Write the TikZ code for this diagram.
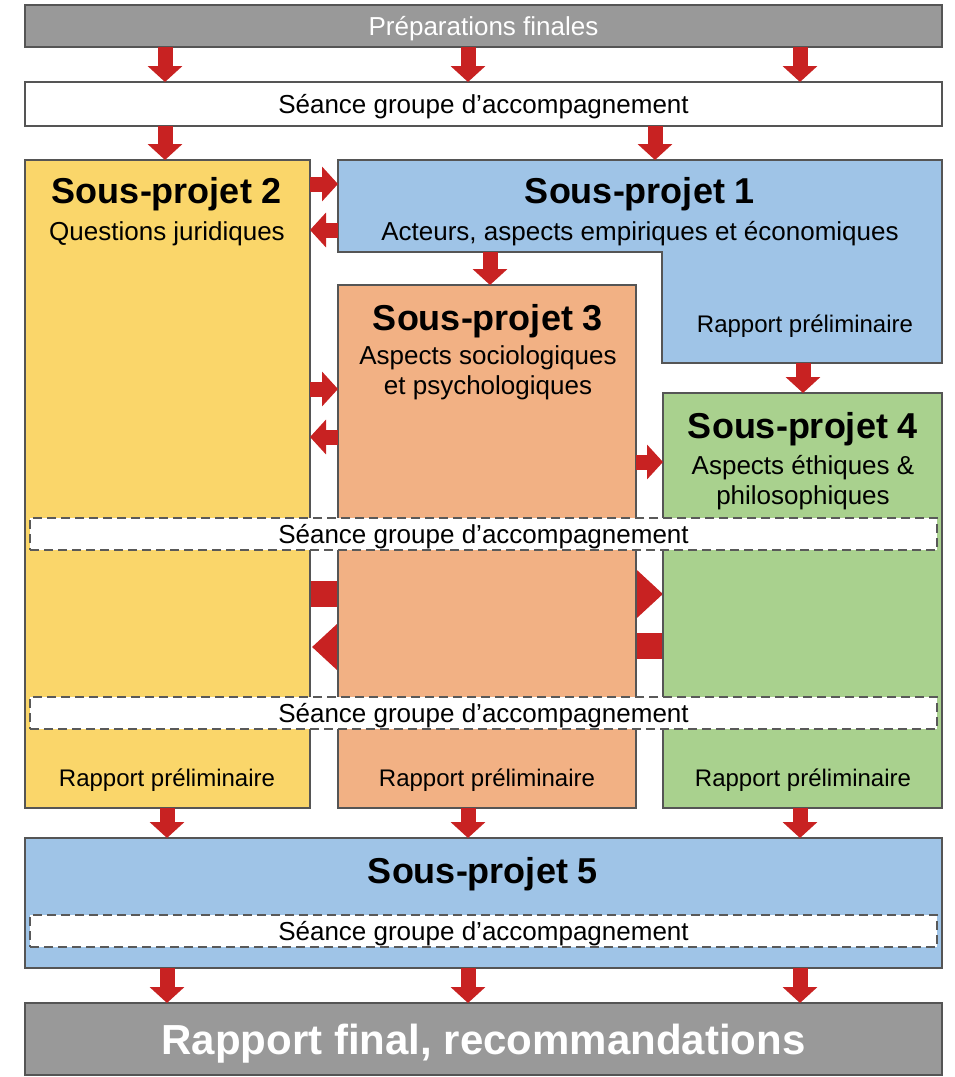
\documentclass[tikz,border=0pt]{standalone}
\usepackage{fontspec}
\setmainfont{Liberation Sans}
\usetikzlibrary{arrows.meta,calc,positioning}
\definecolor{gris}{RGB}{153,153,153}
\definecolor{contour}{RGB}{85,85,85}
\definecolor{jaune}{RGB}{250,214,106}
\definecolor{saumon}{RGB}{242,177,132}
\definecolor{bleu}{RGB}{159,196,231}
\definecolor{vert}{RGB}{169,209,142}
\definecolor{rouge}{RGB}{200,34,34}
\pgfdeclarelayer{background}
\pgfsetlayers{background,main}
\newcommand{\ftexte}{\fontsize{26}{30}\selectfont}
\newcommand{\ftitre}{\fontsize{36}{40}\selectfont\bfseries}
\newcommand{\frapport}{\fontsize{24}{28}\selectfont}
\newcommand{\ffinal}{\fontsize{42}{46}\selectfont\bfseries}
\tikzstyle{bloc}=[
  draw=contour,
  line width=1.5pt,
  rectangle,
  inner sep=0pt,
  outer sep=0pt,
]
\tikzstyle{barre}=[
  bloc,
  fill=gris,
  text=white,
  minimum width=917pt,
]
\tikzstyle{seance}=[
  bloc,
  fill=white,
  font=\ftexte,
  text height=18.6pt,
  text depth=0pt,
]
\tikzstyle{pointille}=[
  seance,
  draw=black!65,
  dash pattern=on 9pt off 5pt,
  line width=2.6pt,
  minimum width=907pt,
  minimum height=32pt,
]
\tikzstyle{titre}=[font=\ftitre, inner sep=0pt, anchor=base]
\tikzstyle{texte}=[font=\ftexte, inner sep=0pt, anchor=base]
\tikzstyle{rapport}=[font=\frapport, inner sep=0pt, anchor=base]
\tikzstyle{fleche}=[
  draw=rouge,
  line width=15pt,
  -{Triangle[width=34pt,length=16pt]},
]
\tikzstyle{grande}=[
  draw=rouge,
  line width=26pt,
  -{Triangle[width=48pt,length=27pt]},
]

\begin{document}
\begin{tikzpicture}[x=1pt,y=-1pt]
  \useasboundingbox (0,0) rectangle (954,1077);
  %% boites
  \node (prep) [barre, minimum height=42pt, font=\ftexte, text height=18.6pt, text depth=0pt] at (483.5,26) {Préparations finales};
  \node (seance1) [seance, minimum width=917pt, minimum height=44pt] at (483.5,104) {Séance groupe d’accompagnement};
  \node (sp2) [bloc, fill=jaune, minimum width=285pt, minimum height=648pt] at (167.5,484) {};
  \node (sp1) [bloc, draw=none, fill=bleu, minimum width=604pt, minimum height=92pt] at (640,206) {};
  \node (sp1b) [bloc, draw=none, fill=bleu, minimum width=280pt, minimum height=112pt] at (802,307) {};
  \draw [draw=contour, line width=1.5pt] (sp1.north west) -- (sp1.north east)
    -- (sp1b.south east) -- (sp1b.south west)
    -- (sp1b.west |- sp1.south) -- (sp1.south west) -- cycle;
  \node (sp3) [bloc, fill=saumon, minimum width=298pt, minimum height=523pt] at (487,546.5) {};
  \node (sp4) [bloc, fill=vert, minimum width=279pt, minimum height=415pt] at (802.5,600.5) {};
  \node (seance2) [pointille] at (483.5,534) {Séance groupe d’accompagnement};
  \node (seance3) [pointille] at (483.5,713) {Séance groupe d’accompagnement};
  \node (sp5) [bloc, fill=bleu, minimum width=917pt, minimum height=130pt] at (483.5,903) {};
  \node (seance4) [pointille] at (483.5,931) {Séance groupe d’accompagnement};
  \node (final) [barre, minimum height=72pt, font=\ffinal, text height=30pt, text depth=0pt] at (483.5,1039) {Rapport final, recommandations};
  %% textes
  \node (titre2) [titre] at (167,203) {Sous-projet 2};
  \node (sujet2) [texte] at (167,240) {Questions juridiques};
  \node (titre1) [titre] at (640,203) {Sous-projet 1};
  \node (sujet1) [texte] at (640,240) {Acteurs, aspects empiriques et économiques};
  \node (rapport1) [rapport] at (805,332) {Rapport préliminaire};
  \node (titre3) [titre] at (488,330) {Sous-projet 3};
  \node (sujet3) [texte] at (488,364) {Aspects sociologiques};
  \node (sujet3b) [texte] at (488,394) {et psychologiques};
  \node (titre4) [titre] at (803,438) {Sous-projet 4};
  \node (sujet4) [texte] at (803,474) {Aspects éthiques \&};
  \node (sujet4b) [texte] at (803,504) {philosophiques};
  \node (rapport2) [rapport] at (167,786) {Rapport préliminaire};
  \node (rapport3) [rapport] at (487,786) {Rapport préliminaire};
  \node (rapport4) [rapport] at (803,786) {Rapport préliminaire};
  \node (titre5) [titre] at (483,883) {Sous-projet 5};
  %% fleches verticales
  \draw [fleche] (prep.south -| 165,0) -- (seance1.north -| 165,0);
  \draw [fleche] (prep.south -| 468,0) -- (seance1.north -| 468,0);
  \draw [fleche] (prep.south -| 800,0) -- (seance1.north -| 800,0);
  \draw [fleche] (seance1.south -| 165,0) -- (sp2.north -| 165,0);
  \draw [fleche] (seance1.south -| 655,0) -- (sp1.north -| 655,0);
  \draw [fleche] (sp1.south -| 490,0) -- (sp3.north -| 490,0);
  \draw [fleche] (sp1b.south -| 803,0) -- (sp4.north -| 803,0);
  \draw [fleche] (sp2.south -| 167,0) -- (sp5.north -| 167,0);
  \draw [fleche] (sp3.south -| 468,0) -- (sp5.north -| 468,0);
  \draw [fleche] (sp4.south -| 800,0) -- (sp5.north -| 800,0);
  \draw [fleche] (sp5.south -| 167,0) -- (final.north -| 167,0);
  \draw [fleche] (sp5.south -| 468,0) -- (final.north -| 468,0);
  \draw [fleche] (sp5.south -| 800,0) -- (final.north -| 800,0);
  %% fleches horizontales
  \draw [fleche] (sp2.east |- 0,184) -- (sp1.west |- 0,184);
  \draw [fleche] (sp1.west |- 0,230) -- (sp2.east |- 0,230);
  \draw [fleche] (sp2.east |- 0,389) -- (sp3.west |- 0,389);
  \draw [fleche] (sp3.west |- 0,437) -- (sp2.east |- 0,437);
  \draw [fleche] (sp3.east |- 0,462) -- (sp4.west |- 0,462);
  \begin{pgfonlayer}{background}
    \draw [grande] ($(sp2.east |- 0,594)+(-30,0)$) -- ($(sp3.west |- 0,594)+(50,0)$);
    \draw [grande] ($(sp3.west |- 0,647)+(45,0)$) -- ($(sp2.east |- 0,647)+(2,0)$);
    \draw [grande] ($(sp3.east |- 0,594)+(-45,0)$) -- (sp4.west |- 0,594);
    \draw [grande] ($(sp4.west |- 0,646)+(30,0)$) -- ($(sp3.east |- 0,646)+(-50,0)$);
  \end{pgfonlayer}
\end{tikzpicture}
\end{document}
